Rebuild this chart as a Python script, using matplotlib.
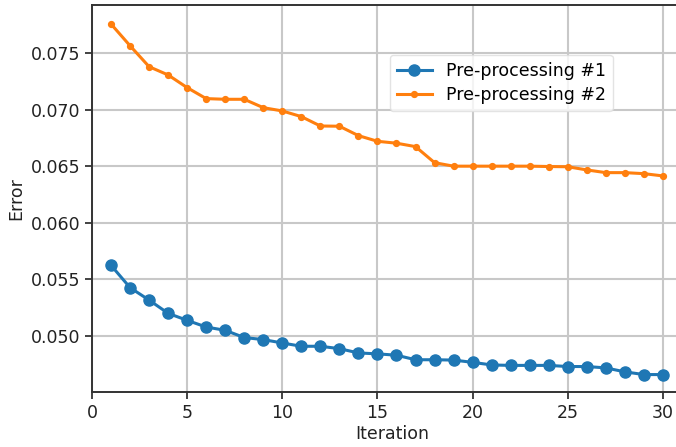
import matplotlib
matplotlib.use("Agg")
import matplotlib.pyplot as plt

iterations = list(range(1, 31))
preproc_1 = [0.05624, 0.05427, 0.05317, 0.05200, 0.05138, 0.05079, 0.05050, 0.04986,
             0.04968, 0.04938, 0.04909, 0.04909, 0.04888, 0.04850, 0.04842, 0.04830,
             0.04790, 0.04790, 0.04787, 0.04767, 0.04744, 0.04740, 0.04740, 0.04740,
             0.04730, 0.04730, 0.04718, 0.04683, 0.04659, 0.04659]
preproc_2 = [0.07756, 0.07564, 0.07379, 0.07306, 0.07194, 0.07097, 0.07091, 0.07091,
             0.07017, 0.06988, 0.06938, 0.06855, 0.06853, 0.06770, 0.06720, 0.06703,
             0.06673, 0.06531, 0.06500, 0.06500, 0.06500, 0.06500, 0.06500, 0.06497,
             0.06495, 0.06467, 0.06443, 0.06443, 0.06434, 0.06414]
series_labels = ["Pre-processing #1", "Pre-processing #2"]
x_ticks = [0, 5, 10, 15, 20, 25, 30]
y_ticks = [0.050, 0.055, 0.060, 0.065, 0.070, 0.075]

W, H = 676, 447
fig = plt.figure(figsize=(W / 100, H / 100), dpi=100)
left, right, top, bottom = 92, 692, 5, 392
ax = fig.add_axes([left / W, 1 - bottom / H, (right - left) / W, (bottom - top) / H])

fs = 12.5
ax.plot(iterations, preproc_1, color="#1f77b4", marker="o", markersize=8,
        linewidth=2.2, label=series_labels[0], zorder=3)
ax.plot(iterations, preproc_2, color="#ff7f0e", marker="o", markersize=4.2,
        linewidth=2.2, label=series_labels[1], zorder=3)

# x range extends a little past the visible figure edge
ax.set_xlim(0, (right - left) / 19.03)
ax.set_ylim(0.04505, 0.07924)
ax.set_xticks(x_ticks)
ax.set_yticks(y_ticks)
ax.set_yticklabels([f"{v:.3f}" for v in y_ticks])
ax.tick_params(labelsize=fs, width=1.2, length=5, colors="#222222")
ax.grid(True, color="#c8c8c8", linewidth=1.5)
ax.set_axisbelow(True)
for s in ax.spines.values():
    s.set_linewidth(1.4)
    s.set_color("#333333")

ax.set_xlabel("Iteration", fontsize=fs, labelpad=2, color="#222222")
ax.set_ylabel("Error", fontsize=fs, labelpad=4, color="#222222")

ax.legend(loc="upper left", bbox_to_anchor=(390 / W, 1 - 55 / H),
          bbox_transform=fig.transFigure, borderaxespad=0, fontsize=fs,
          frameon=True, framealpha=0.8, edgecolor="#dddddd", borderpad=0.4,
          handlelength=2.0, labelspacing=0.35)

fig.savefig("out.png", dpi=100)
